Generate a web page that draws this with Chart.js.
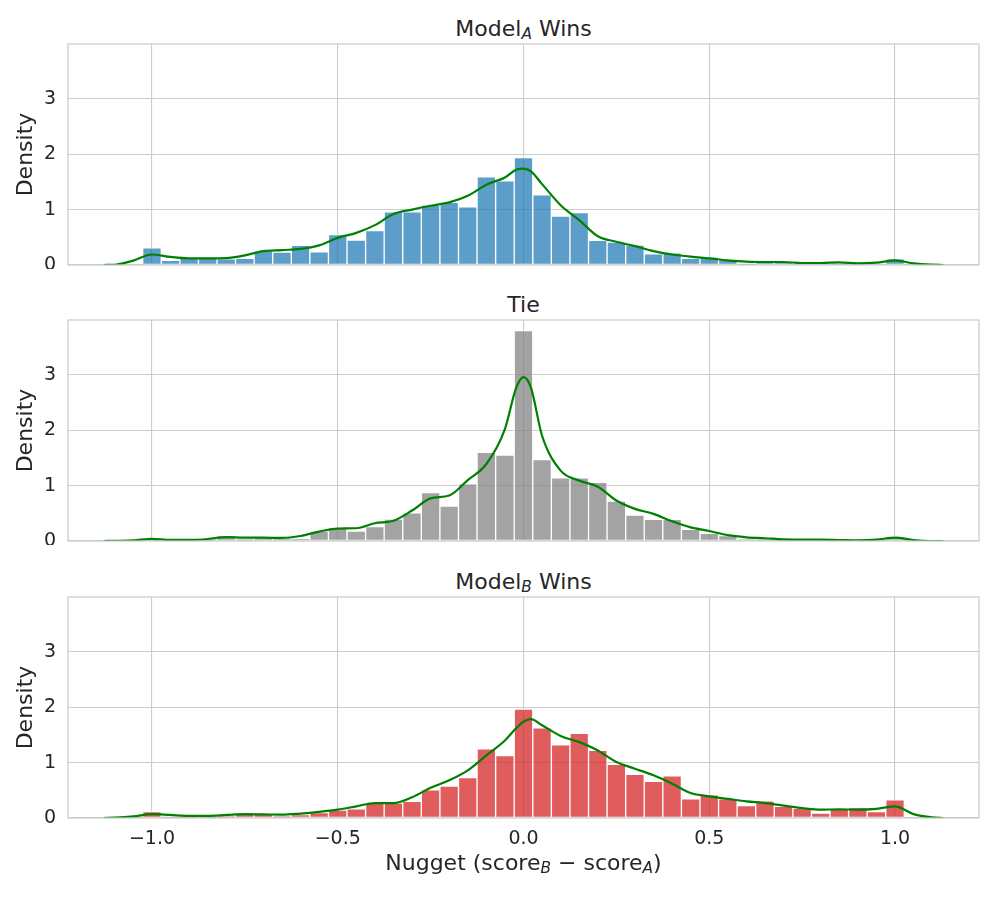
<!DOCTYPE html>
<html lang="en">
<head>
<meta charset="UTF-8">
<title>Nugget score difference by outcome</title>
<script src="https://cdn.jsdelivr.net/npm/chart.js"></script>
<style>
    body, html {
        margin: 0;
        background: #ffffff;
    }
    #wrap {
        position: relative;
        width: 997px;
        height: 897px;
        font-family: 'DejaVu Sans', sans-serif;
        color: #262626;
    }
    canvas {
        position: absolute;
        left: 0;
    }
    .ttl {
        position: absolute;
        left: 68px;
        width: 911px;
        text-align: center;
        font-size: 22px;
        line-height: 1;
        white-space: nowrap;
    }
    .ttl sub {
        font-size: 70%;
        font-style: italic;
        vertical-align: -0.22em;
        line-height: 0;
    }
</style>
</head>
<body>
<div id="wrap">
    <div class="ttl" style="top:18px">Model<sub>A</sub> Wins</div>
    <canvas id="aWins" width="997" height="231" style="top:38px"></canvas>
    <div class="ttl" style="top:294px">Tie</div>
    <canvas id="tie" width="997" height="231" style="top:314px"></canvas>
    <div class="ttl" style="top:571px">Model<sub>B</sub> Wins</div>
    <canvas id="bWins" width="997" height="267" style="top:591px"></canvas>
    <div class="ttl" style="top:852px">Nugget (score<sub>B</sub> &minus; score<sub>A</sub>)</div>
</div>

<script>
    // histogram bin centres (bin width 0.05)
    const binCenters = [-1.0, -0.95, -0.9, -0.85, -0.8, -0.75, -0.7, -0.65, -0.6, -0.55,
        -0.5, -0.45, -0.4, -0.35, -0.3, -0.25, -0.2, -0.15, -0.1, -0.05, 0.0,
        0.05, 0.1, 0.15, 0.2, 0.25, 0.3, 0.35, 0.4, 0.45, 0.5,
        0.55, 0.6, 0.65, 0.7, 0.75, 0.8, 0.85, 0.9, 0.95, 1.0];

    const aWinsHist = [0.31, 0.084, 0.12, 0.12, 0.11, 0.12, 0.25, 0.235, 0.355, 0.24,
        0.55, 0.45, 0.62, 0.96, 0.96, 1.08, 1.13, 1.05, 1.59, 1.52, 1.94,
        1.265, 0.885, 0.946, 0.446, 0.416, 0.36, 0.2, 0.22, 0.12, 0.145,
        0.10, 0.02, 0.06, 0.06, 0.03, 0.03, 0.02, 0.03, 0.0, 0.11];
    const tieHist = [0.03, 0.0, 0.01, 0.02, 0.10, 0.03, 0.06, 0.05, 0.05, 0.18,
        0.23, 0.18, 0.26, 0.395, 0.51, 0.875, 0.63, 1.03, 1.60, 1.55, 3.80,
        1.47, 1.14, 1.14, 1.06, 0.72, 0.47, 0.39, 0.39, 0.21, 0.14,
        0.10, 0.036, 0.03, 0.02, 0.01, 0.01, 0.01, 0.01, 0.0, 0.085];
    const bWinsHist = [0.115, 0.02, 0.02, 0.02, 0.03, 0.07, 0.07, 0.03, 0.06, 0.10,
        0.145, 0.165, 0.285, 0.27, 0.30, 0.51, 0.575, 0.73, 1.25, 1.125, 1.965,
        1.63, 1.32, 1.53, 1.22, 0.97, 0.79, 0.66, 0.76, 0.345, 0.42,
        0.345, 0.224, 0.31, 0.21, 0.175, 0.09, 0.175, 0.19, 0.115, 0.33];

    // KDE curves
    const kdeX = [-1.13, -1.1, -1.05, -1.0, -0.95, -0.9, -0.85, -0.8, -0.75, -0.7,
        -0.65, -0.6, -0.55, -0.5, -0.45, -0.4, -0.35, -0.3, -0.25, -0.2,
        -0.15, -0.1, -0.05, -0.02, 0, 0.02, 0.05, 0.1, 0.15, 0.2,
        0.25, 0.3, 0.35, 0.4, 0.45, 0.5, 0.55, 0.6, 0.65, 0.7,
        0.75, 0.8, 0.85, 0.9, 0.95, 1.0, 1.05, 1.1, 1.13];
    const aWinsKde = [0, 0.005, 0.08, 0.19, 0.145, 0.12, 0.12, 0.125, 0.175, 0.25,
        0.27, 0.29, 0.355, 0.49, 0.58, 0.72, 0.92, 1.0, 1.07, 1.13,
        1.25, 1.45, 1.58, 1.72, 1.74, 1.69, 1.46, 1.08, 0.81, 0.52,
        0.42, 0.34, 0.25, 0.19, 0.15, 0.12, 0.084, 0.06, 0.054, 0.054,
        0.036, 0.036, 0.048, 0.03, 0.042, 0.084, 0.03, 0.006, 0];
    const tieKde = [0, 0.003, 0.01, 0.04, 0.02, 0.02, 0.036, 0.07, 0.06, 0.06,
        0.055, 0.09, 0.17, 0.225, 0.23, 0.32, 0.365, 0.55, 0.77, 0.82,
        1.10, 1.39, 2.02, 2.76, 2.96, 2.77, 1.9, 1.27, 1.09, 0.98,
        0.73, 0.58, 0.49, 0.355, 0.245, 0.18, 0.105, 0.067, 0.05, 0.03,
        0.024, 0.024, 0.018, 0.012, 0.024, 0.06, 0.018, 0.0, 0];
    const bWinsKde = [0, 0.006, 0.03, 0.07, 0.055, 0.04, 0.04, 0.055, 0.07, 0.065,
        0.06, 0.08, 0.11, 0.15, 0.21, 0.27, 0.27, 0.375, 0.545, 0.68,
        0.86, 1.13, 1.40, 1.62, 1.74, 1.785, 1.675, 1.48, 1.37, 1.22,
        1.01, 0.89, 0.77, 0.62, 0.45, 0.39, 0.345, 0.30, 0.27, 0.224,
        0.18, 0.15, 0.157, 0.15, 0.165, 0.21, 0.07, 0.01, 0];

    const xTicks = [-1.0, -0.5, 0.0, 0.5, 1.0];
    const yTicks = [0, 1, 2, 3];

    Chart.defaults.font.family = "'DejaVu Sans', sans-serif";
    Chart.defaults.color = '#262626';

    const framePlugin = {
        id: 'frame',
        afterDatasetsDraw(chart) {
            const a = chart.chartArea;
            const ctx = chart.ctx;
            ctx.save();
            ctx.strokeStyle = '#cccccc';
            ctx.lineWidth = 1.25;
            ctx.strokeRect(a.left, a.top, a.right - a.left, a.bottom - a.top);
            ctx.restore();
        }
    };

    function noPad(s) {
        s.paddingTop = 0;
        s.paddingBottom = 0;
        s.paddingLeft = 0;
        s.paddingRight = 0;
    }

    function makePanel(id, hist, kde, barColor, showX) {
        const ctx = document.getElementById(id).getContext('2d');
        return new Chart(ctx, {
            type: 'bar',
            data: {
                datasets: [{
                    type: 'line',
                    data: kdeX.map((x, i) => ({ x: x, y: kde[i] })),
                    borderColor: '#008000',
                    borderWidth: 2.2,
                    pointRadius: 0,
                    cubicInterpolationMode: 'monotone',
                    fill: false,
                    order: 0
                }, {
                    type: 'bar',
                    data: binCenters.map((x, i) => ({ x: x, y: hist[i] })),
                    backgroundColor: barColor,
                    borderColor: 'rgba(255,255,255,0.95)',
                    borderWidth: 1,
                    borderSkipped: false,
                    barPercentage: 1.0,
                    categoryPercentage: 1.0,
                    order: 1
                }]
            },
            options: {
                responsive: false,
                animation: false,
                events: [],
                layout: { padding: { left: 0, right: 18, top: 6, bottom: 0 } },
                plugins: {
                    legend: { display: false },
                    tooltip: { enabled: false }
                },
                scales: {
                    x: {
                        type: 'linear',
                        min: -1.226,
                        max: 1.226,
                        offset: false,
                        border: { display: false },
                        grid: { color: '#cccccc', lineWidth: 1.1, drawTicks: false, offset: false },
                        afterBuildTicks: s => { s.ticks = xTicks.map(v => ({ value: v })); },
                        afterFit: s => { s.height = showX ? 40 : 4; noPad(s); },
                        ticks: {
                            display: showX,
                            padding: 10,
                            font: { size: 19 },
                            color: '#262626',
                            callback: v => v.toFixed(1).replace('-', '\u2212')
                        }
                    },
                    y: {
                        min: 0,
                        max: 3.99,
                        border: { display: false },
                        grid: { color: '#cccccc', lineWidth: 1.1, drawTicks: false },
                        afterBuildTicks: s => { s.ticks = yTicks.map(v => ({ value: v })); },
                        afterFit: s => { s.width = 68; noPad(s); },
                        ticks: {
                            padding: 12,
                            font: { size: 19 },
                            color: '#262626',
                            callback: v => String(v)
                        },
                        title: {
                            display: true,
                            text: 'Density',
                            font: { size: 22 },
                            color: '#262626',
                            padding: { top: 13, bottom: 0 }
                        }
                    }
                }
            },
            plugins: [framePlugin]
        });
    }

    makePanel('aWins', aWinsHist, aWinsKde, 'rgba(31,119,180,0.72)', false);
    makePanel('tie', tieHist, tieKde, 'rgba(127,127,127,0.72)', false);
    makePanel('bWins', bWinsHist, bWinsKde, 'rgba(214,39,40,0.75)', true);
</script>
</body>
</html>
